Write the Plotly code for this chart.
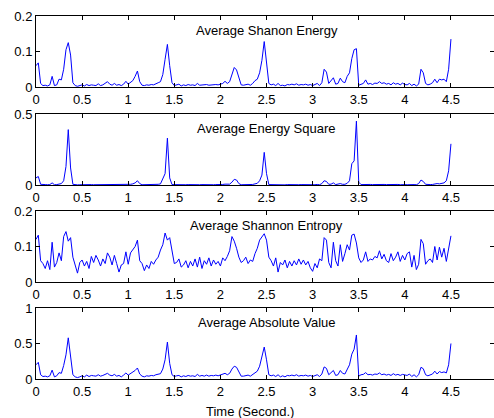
import numpy as np
import plotly.graph_objects as go
from plotly.subplots import make_subplots

# time axis (seconds), 0.025 s step
time_s = np.round(np.arange(0, 4.5001, 0.025), 3)

shannon_energy = [
    0.060, 0.068, 0.010, 0.004, 0.005, 0.003, 0.006, 0.030, 0.004, 0.006,
    0.022, 0.020, 0.050, 0.105, 0.125, 0.090, 0.012, 0.004, 0.002, 0.003,
    0.006, 0.003, 0.007, 0.004, 0.006, 0.005, 0.004, 0.009, 0.004, 0.006,
    0.010, 0.015, 0.008, 0.005, 0.010, 0.005, 0.007, 0.004, 0.008, 0.016,
    0.008, 0.014, 0.018, 0.030, 0.045, 0.015, 0.005, 0.004, 0.006, 0.005,
    0.007, 0.006, 0.010, 0.012, 0.015, 0.035, 0.078, 0.120, 0.060, 0.012,
    0.004, 0.006, 0.008, 0.003, 0.006, 0.004, 0.007, 0.005, 0.006, 0.004,
    0.010, 0.005, 0.006, 0.005, 0.007, 0.005, 0.006, 0.005, 0.007, 0.006,
    0.008, 0.010, 0.016, 0.010, 0.015, 0.035, 0.055, 0.048, 0.025, 0.006,
    0.005, 0.006, 0.008, 0.005, 0.010, 0.018, 0.022, 0.040, 0.075, 0.128,
    0.070, 0.010, 0.006, 0.008, 0.004, 0.010, 0.004, 0.005, 0.003, 0.007,
    0.006, 0.008, 0.006, 0.009, 0.005, 0.007, 0.006, 0.008, 0.005, 0.007,
    0.004, 0.006, 0.010, 0.004, 0.012, 0.050, 0.042, 0.010, 0.018, 0.026,
    0.008, 0.010, 0.025, 0.015, 0.012, 0.030, 0.040, 0.080, 0.105, 0.108,
    0.005, 0.008, 0.010, 0.020, 0.008, 0.010, 0.007, 0.011, 0.010, 0.015,
    0.010, 0.012, 0.008, 0.010, 0.006, 0.012, 0.008, 0.010, 0.006, 0.011,
    0.007, 0.006, 0.010, 0.004, 0.008, 0.003, 0.008, 0.050, 0.040, 0.010,
    0.006, 0.008, 0.012, 0.022, 0.012, 0.022, 0.020, 0.022, 0.015, 0.050,
    0.135,
]

energy_square = [
    0.050, 0.060, 0.005, 0.002, 0.003, 0.002, 0.003, 0.015, 0.002, 0.003,
    0.008, 0.010, 0.030, 0.130, 0.390, 0.120, 0.005, 0.002, 0.001, 0.002,
    0.003, 0.002, 0.003, 0.002, 0.003, 0.002, 0.002, 0.004, 0.002, 0.003,
    0.004, 0.005, 0.003, 0.002, 0.004, 0.002, 0.003, 0.002, 0.003, 0.005,
    0.003, 0.005, 0.008, 0.015, 0.030, 0.010, 0.002, 0.002, 0.003, 0.002,
    0.003, 0.002, 0.004, 0.005, 0.008, 0.050, 0.080, 0.330, 0.050, 0.003,
    0.002, 0.003, 0.003, 0.002, 0.003, 0.002, 0.003, 0.002, 0.003, 0.002,
    0.004, 0.002, 0.003, 0.002, 0.003, 0.002, 0.003, 0.002, 0.003, 0.002,
    0.003, 0.004, 0.006, 0.004, 0.006, 0.020, 0.040, 0.035, 0.010, 0.002,
    0.002, 0.003, 0.003, 0.002, 0.004, 0.008, 0.012, 0.030, 0.070, 0.230,
    0.080, 0.003, 0.002, 0.003, 0.002, 0.004, 0.002, 0.002, 0.001, 0.003,
    0.002, 0.003, 0.002, 0.004, 0.002, 0.003, 0.002, 0.003, 0.002, 0.003,
    0.002, 0.002, 0.004, 0.002, 0.010, 0.030, 0.025, 0.005, 0.006, 0.015,
    0.003, 0.004, 0.010, 0.005, 0.005, 0.012, 0.030, 0.150, 0.170, 0.450,
    0.020, 0.003, 0.004, 0.006, 0.003, 0.004, 0.003, 0.004, 0.003, 0.005,
    0.003, 0.004, 0.003, 0.004, 0.002, 0.004, 0.003, 0.004, 0.002, 0.004,
    0.003, 0.002, 0.004, 0.002, 0.003, 0.002, 0.010, 0.035, 0.025, 0.005,
    0.002, 0.003, 0.004, 0.008, 0.010, 0.008, 0.012, 0.015, 0.030, 0.100,
    0.290,
]

shannon_entropy = [
    0.120, 0.132, 0.060, 0.052, 0.038, 0.060, 0.035, 0.112, 0.042, 0.055,
    0.082, 0.060, 0.128, 0.142, 0.115, 0.125, 0.070, 0.048, 0.025, 0.055,
    0.062, 0.045, 0.058, 0.038, 0.072, 0.055, 0.075, 0.062, 0.045, 0.065,
    0.052, 0.082, 0.070, 0.048, 0.075, 0.052, 0.028, 0.048, 0.052, 0.085,
    0.050, 0.082, 0.090, 0.100, 0.118, 0.060, 0.052, 0.032, 0.048, 0.038,
    0.058, 0.050, 0.062, 0.070, 0.090, 0.105, 0.138, 0.118, 0.125, 0.085,
    0.052, 0.055, 0.065, 0.042, 0.048, 0.060, 0.040, 0.058, 0.045, 0.065,
    0.042, 0.070, 0.038, 0.060, 0.050, 0.068, 0.045, 0.062, 0.050, 0.058,
    0.045, 0.068, 0.060, 0.072, 0.088, 0.128, 0.115, 0.095, 0.070, 0.055,
    0.060, 0.070, 0.052, 0.062, 0.058, 0.080, 0.095, 0.118, 0.128, 0.136,
    0.118, 0.070, 0.060, 0.045, 0.068, 0.028, 0.055, 0.048, 0.062, 0.040,
    0.058, 0.045, 0.060, 0.048, 0.065, 0.050, 0.062, 0.048, 0.058, 0.040,
    0.030, 0.052, 0.040, 0.065, 0.060, 0.125, 0.118, 0.055, 0.040, 0.112,
    0.060, 0.045, 0.105, 0.058, 0.080, 0.105, 0.090, 0.132, 0.135, 0.110,
    0.068, 0.055, 0.062, 0.085, 0.058, 0.065, 0.062, 0.072, 0.068, 0.088,
    0.065, 0.078, 0.060, 0.055, 0.080, 0.060, 0.070, 0.085, 0.058, 0.075,
    0.062, 0.080, 0.085, 0.042, 0.075, 0.035, 0.050, 0.120, 0.108, 0.050,
    0.060, 0.065, 0.055, 0.100, 0.062, 0.098, 0.070, 0.095, 0.058, 0.092,
    0.130,
]

absolute_value = [
    0.200, 0.235, 0.060, 0.035, 0.040, 0.030, 0.045, 0.125, 0.030, 0.045,
    0.090, 0.080, 0.190, 0.340, 0.580, 0.300, 0.060, 0.030, 0.020, 0.030,
    0.045, 0.030, 0.055, 0.035, 0.050, 0.045, 0.040, 0.060, 0.040, 0.050,
    0.065, 0.080, 0.055, 0.045, 0.065, 0.040, 0.050, 0.030, 0.055, 0.085,
    0.055, 0.075, 0.090, 0.120, 0.155, 0.070, 0.040, 0.030, 0.045, 0.040,
    0.050, 0.045, 0.060, 0.070, 0.075, 0.140, 0.270, 0.520, 0.220, 0.060,
    0.035, 0.045, 0.050, 0.030, 0.045, 0.035, 0.050, 0.040, 0.045, 0.035,
    0.065, 0.040, 0.050, 0.040, 0.055, 0.040, 0.050, 0.045, 0.055, 0.045,
    0.055, 0.060, 0.080, 0.060, 0.080, 0.140, 0.180, 0.165, 0.100, 0.040,
    0.040, 0.045, 0.055, 0.040, 0.060, 0.085, 0.110, 0.180, 0.300, 0.450,
    0.270, 0.060, 0.045, 0.055, 0.035, 0.060, 0.030, 0.045, 0.030, 0.050,
    0.045, 0.055, 0.045, 0.060, 0.040, 0.050, 0.045, 0.055, 0.040, 0.050,
    0.035, 0.045, 0.060, 0.035, 0.070, 0.170, 0.150, 0.060, 0.090, 0.120,
    0.050, 0.060, 0.120, 0.080, 0.070, 0.140, 0.200, 0.350, 0.420, 0.620,
    0.040, 0.060, 0.065, 0.090, 0.060, 0.065, 0.055, 0.070, 0.065, 0.085,
    0.060, 0.070, 0.055, 0.065, 0.050, 0.075, 0.055, 0.065, 0.050, 0.065,
    0.055, 0.050, 0.070, 0.035, 0.060, 0.030, 0.060, 0.165, 0.145, 0.060,
    0.045, 0.055, 0.070, 0.110, 0.070, 0.105, 0.090, 0.100, 0.085, 0.200,
    0.500,
]

titles = ["Average Shanon Energy", "Average Energy Square",
          "Average Shannon Entropy", "Average Absolute Value"]
series = [shannon_energy, energy_square, shannon_entropy, absolute_value]
y_ranges = [[0, 0.2], [0, 0.5], [0, 0.2], [0, 1]]
y_ticks = [[0, 0.1, 0.2], [0, 0.5], [0, 0.1, 0.2], [0, 0.5, 1]]
x_ticks = [0, 0.5, 1, 1.5, 2, 2.5, 3, 3.5, 4, 4.5, 5]
x_label = "Time (Second.)"

domains = [[0.8044, 1.0], [0.5344, 0.7300], [0.2672, 0.4628], [0.0, 0.1956]]

fig = make_subplots(rows=4, cols=1)
font = dict(family="Liberation Sans, Arial, sans-serif", size=13, color="black")

for i, (vals, ttl) in enumerate(zip(series, titles)):
    r = i + 1
    fig.add_trace(go.Scatter(x=time_s, y=vals, mode="lines",
                             line=dict(color="#0000ff", width=1),
                             showlegend=False), row=r, col=1)
    axn = "" if r == 1 else str(r)
    fig.update_layout({
        f"xaxis{axn}": dict(domain=[0, 1], range=[0, 4.967], tickvals=x_ticks,
                            ticks="inside", ticklen=4, tickcolor="black",
                            showline=True, linecolor="black", linewidth=1,
                            mirror="ticks", showgrid=False, zeroline=False,
                            tickfont=font),
        f"yaxis{axn}": dict(domain=domains[i], range=y_ranges[i], tickvals=y_ticks[i],
                            ticks="inside", ticklen=4, tickcolor="black",
                            showline=True, linecolor="black", linewidth=1,
                            mirror="ticks", showgrid=False, zeroline=False,
                            tickfont=font),
    })
    fig.add_annotation(text=ttl, xref=f"x{axn}", yref=f"y{axn} domain",
                       x=2.5, y=1, yanchor="top", yshift=-5,
                       showarrow=False, font=font)

fig.add_annotation(text=x_label, xref="paper", yref="paper", x=0.467, y=0,
                   yanchor="middle", yshift=-32, showarrow=False, font=font)

fig.update_layout(width=494, height=418, margin=dict(l=36, r=0, t=16, b=39),
                  plot_bgcolor="white", paper_bgcolor="white", font=font)

fig.write_html("out.html")
